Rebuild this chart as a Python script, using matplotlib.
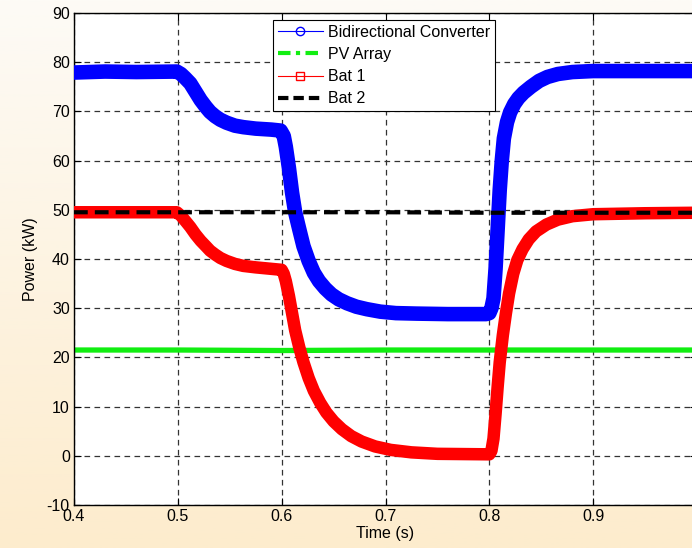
import numpy as np
import matplotlib
matplotlib.use("Agg")
import matplotlib.pyplot as plt
from matplotlib.lines import Line2D

plt.rcParams['font.family'] = ['Liberation Sans', 'DejaVu Sans']
plt.rcParams['axes.unicode_minus'] = False

# --- values ---
t_conv = [0.400, 0.430, 0.460, 0.499, 0.503, 0.507, 0.512, 0.517, 0.522, 0.527,
          0.531, 0.536, 0.541, 0.547, 0.555, 0.563, 0.575, 0.590, 0.599, 0.602,
          0.604, 0.607, 0.610, 0.613, 0.617, 0.621, 0.626, 0.631, 0.636, 0.642,
          0.648, 0.655, 0.663, 0.672, 0.682, 0.695, 0.710, 0.730, 0.760, 0.797,
          0.800, 0.802, 0.804, 0.806, 0.808, 0.810, 0.812, 0.814, 0.817, 0.820,
          0.824, 0.828, 0.833, 0.840, 0.848, 0.856, 0.866, 0.880, 0.900, 0.950,
          1.000]
p_conv = [77.9, 78.1, 78.0, 78.1, 77.6, 76.8, 75.7, 74.0, 72.3, 70.9,
          69.9, 69.0, 68.3, 67.7, 67.1, 66.8, 66.5, 66.3, 66.1, 65.0,
          62.8, 58.5, 53.5, 49.5, 46.0, 42.6, 39.6, 37.2, 35.5, 34.0,
          32.8, 31.8, 31.0, 30.3, 29.8, 29.3, 29.0, 28.9, 28.8, 28.8,
          29.0, 30.0, 32.0, 38.0, 46.0, 54.0, 60.0, 64.5, 67.8, 69.8,
          71.5, 72.7, 73.8, 75.0, 76.2, 77.0, 77.6, 78.0, 78.2, 78.2,
          78.2]

t_pv = [0.400, 0.500, 0.600, 0.700, 0.800, 0.900, 1.000]
p_pv = [21.5, 21.5, 21.4, 21.5, 21.5, 21.5, 21.5]

t_bat1 = [0.400, 0.450, 0.499, 0.503, 0.507, 0.512, 0.517, 0.522, 0.527, 0.531,
          0.536, 0.541, 0.547, 0.555, 0.563, 0.575, 0.590, 0.600, 0.602, 0.604,
          0.607, 0.610, 0.613, 0.617, 0.621, 0.626, 0.631, 0.637, 0.643, 0.650,
          0.658, 0.667, 0.677, 0.690, 0.705, 0.725, 0.750, 0.800, 0.802, 0.804,
          0.806, 0.808, 0.810, 0.813, 0.816, 0.819, 0.823, 0.827, 0.832, 0.838,
          0.845, 0.855, 0.866, 0.880, 0.900, 0.950, 1.000]
p_bat1 = [49.5, 49.5, 49.5, 48.8, 47.8, 46.5, 45.0, 43.7, 42.6, 41.7,
          40.9, 40.2, 39.6, 39.0, 38.6, 38.3, 38.0, 37.8, 37.0, 35.5,
          32.5, 29.0, 25.5, 22.0, 19.0, 15.8, 13.2, 10.8, 8.8, 7.0,
          5.4, 4.0, 2.9, 1.9, 1.2, 0.7, 0.4, 0.3, 1.0, 3.5,
          8.5, 14.0, 19.0, 24.5, 29.0, 33.0, 37.0, 39.8, 42.0, 44.0,
          45.6, 47.0, 48.0, 48.7, 49.1, 49.3, 49.4]

t_bat2 = [0.400, 0.500, 0.600, 0.700, 0.800, 0.900, 1.000]
p_bat2 = [49.5, 49.5, 49.5, 49.5, 49.4, 49.4, 49.4]

x_ticks = [0.4, 0.5, 0.6, 0.7, 0.8, 0.9]
y_ticks = [-10, 0, 10, 20, 30, 40, 50, 60, 70, 80, 90]

fig = plt.figure(figsize=(6.92, 5.48), dpi=100)

# beige gradient background
bg = fig.add_axes([0, 0, 1, 1], zorder=-10)
grad = np.linspace(0, 1, 256)[:, None]
top = np.array([253, 251, 246]) / 255
bot = np.array([253, 236, 205]) / 255
img = top[None, None, :] * (1 - grad[..., None]) + bot[None, None, :] * grad[..., None]
bg.imshow(img, aspect='auto', extent=[0, 1, 0, 1])
bg.axis('off')

ax = fig.add_axes([74 / 692, 43 / 548, 623 / 692, 492 / 548])
ax.set_facecolor('white')

ax.plot(t_conv, p_conv, color='#0000ff', lw=10.5, solid_capstyle='round',
        solid_joinstyle='round', zorder=3)
ax.plot(t_pv, p_pv, color='#11ee11', lw=3.8, zorder=2)
ax.plot(t_bat1, p_bat1, color='#ff0000', lw=9, solid_capstyle='round',
        solid_joinstyle='round', zorder=3)
ax.plot(t_bat2, p_bat2, color='black', lw=3, dashes=(3.3, 1.7), zorder=4)

ax.set_xlim(0.4, 1.0)
ax.set_ylim(-10, 90)
ax.set_xticks(x_ticks)
ax.set_yticks(y_ticks)
ax.set_xticklabels([f'{v:.1f}' for v in x_ticks])
ax.tick_params(direction='in', top=True, right=True, labelsize=11.5, length=5, pad=3)
ax.grid(True, color='#333333', lw=0.9, dashes=(4.5, 3.5))
for s in ax.spines.values():
    s.set_linewidth(1.0)

ax.set_xlabel('Time (s)', fontsize=11.5, labelpad=1)
ax.set_ylabel('Power (kW)', fontsize=11.5, labelpad=6)

handles = [
    Line2D([], [], color='#0000ff', lw=0.8, marker='o', mfc='none', markersize=6),
    Line2D([], [], color='#11ee11', lw=3, dashes=(3, 1.3, 1, 1.3)),
    Line2D([], [], color='#ff0000', lw=0.8, marker='s', mfc='none', markersize=6),
    Line2D([], [], color='black', lw=3, dashes=(2.5, 1.2)),
]
labels = ['Bidirectional Converter', 'PV Array', 'Bat 1', 'Bat 2']
leg = ax.legend(handles, labels, loc='upper left', bbox_to_anchor=(199 / 623, 485 / 492),
                fontsize=11.5, frameon=True, fancybox=False, framealpha=1,
                edgecolor='black', borderpad=0.3, labelspacing=0.45,
                handlelength=2.8, handletextpad=0.35, borderaxespad=0)
leg.get_frame().set_linewidth(0.8)
leg.set_zorder(10)

fig.savefig('out.png', dpi=100)
